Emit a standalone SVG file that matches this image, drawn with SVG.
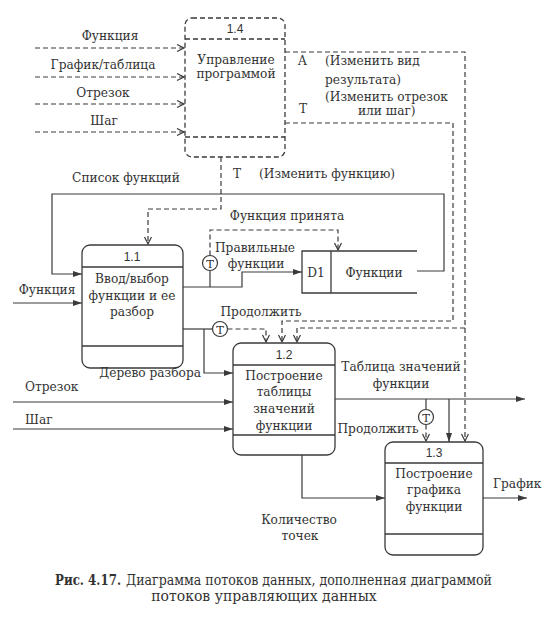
<svg xmlns="http://www.w3.org/2000/svg" width="559" height="620" viewBox="0 0 559 620">
<style>
.ln{stroke:#3a3a3a;stroke-width:1.2;fill:none}
.d{stroke-dasharray:5 3}
.box{stroke:#3a3a3a;stroke-width:1.3;fill:none}
text{font-family:"DejaVu Serif","Liberation Serif",serif;font-size:12.2px;fill:#333}
.num{font-family:"Liberation Sans",Arial,sans-serif;font-size:12px}
.m{text-anchor:middle}
.e{text-anchor:end}
.cap{font-size:14px}
.circ{stroke:#3a3a3a;stroke-width:1.2;fill:#fff}
</style>
<defs>
<marker id="af" markerUnits="userSpaceOnUse" markerWidth="10" markerHeight="8" refX="9" refY="3.5" orient="auto">
<path d="M0,0.5 L9,3.5 L0,6.5 z" fill="#3a3a3a"/>
</marker>
<marker id="ao" markerUnits="userSpaceOnUse" markerWidth="10" markerHeight="10" refX="8" refY="4" orient="auto">
<path d="M1,0.5 L8,4 L1,7.5" fill="none" stroke="#3a3a3a" stroke-width="1.2"/>
</marker>
</defs>
<rect width="559" height="620" fill="#fff"/>

<g id="connectors">
<path class="ln d" d="M35,48 H184" marker-end="url(#ao)"/>
<path class="ln d" d="M35,77 H184" marker-end="url(#ao)"/>
<path class="ln d" d="M35,104 H184" marker-end="url(#ao)"/>
<path class="ln d" d="M35,132 H184" marker-end="url(#ao)"/>
<path class="ln d" d="M285,52 H465 V441" marker-end="url(#ao)"/>
<path class="ln d" d="M465,328 H297 V342" marker-end="url(#ao)"/>
<path class="ln d" d="M285,123 H453 V321 H282 V342" marker-end="url(#ao)"/>
<path class="ln d" d="M221,157 V209 H148 V244" marker-end="url(#ao)"/>
<path class="ln" d="M417,271 H444 V194 H52 V274 H82" marker-end="url(#af)"/>
<path class="ln" d="M13,303 H82" marker-end="url(#af)"/>
<path class="ln" d="M183,287 H242 V272 H302" marker-end="url(#af)"/>
<path class="ln" d="M210,287 V270.5"/>
<path class="ln d" d="M210,255.5 V230 H338 V250" marker-end="url(#ao)"/>
<path class="ln" d="M183,329 H212.5"/>
<path class="ln" d="M204,329 V373 H233" marker-end="url(#af)"/>
<path class="ln d" d="M227.5,329 H266 V342" marker-end="url(#ao)"/>
<path class="ln" d="M13,402 H233" marker-end="url(#af)"/>
<path class="ln" d="M13,429 H233" marker-end="url(#af)"/>
<path class="ln" d="M335,399 H525" marker-end="url(#af)"/>
<path class="ln" d="M426,399 V409.5"/>
<path class="ln d" d="M426,424.5 V441" marker-end="url(#ao)"/>
<path class="ln" d="M449,399 V442" marker-end="url(#af)"/>
<path class="ln" d="M302,455 V498 H385" marker-end="url(#af)"/>
<path class="ln" d="M483,498 H527" marker-end="url(#af)"/>
<circle class="circ" cx="210" cy="263" r="7.5"/>
<text x="210" y="267.5" class="m" style="font-size:11.5px">T</text>
<circle class="circ" cx="220" cy="329" r="7.5"/>
<text x="220" y="333.5" class="m" style="font-size:11.5px">T</text>
<circle class="circ" cx="426" cy="417" r="7.5"/>
<text x="426" y="421.5" class="m" style="font-size:11.5px">T</text>
</g>

<g id="labels">
<text x="110" y="40" class="m">Функция</text>
<text x="103" y="69" class="m">График/таблица</text>
<text x="103" y="97" class="m">Отрезок</text>
<text x="104" y="125" class="m">Шаг</text>
<text x="298" y="65">A</text>
<text x="325" y="65">(Изменить вид</text>
<text x="325" y="84">результата)</text>
<text x="325" y="101">(Изменить отрезок</text>
<text x="358" y="115">или шаг)</text>
<text x="299" y="113">T</text>
<text x="126" y="182" class="m">Список функций</text>
<text x="233" y="178">T</text>
<text x="259" y="178">(Изменить функцию)</text>
<text x="287" y="220" class="m">Функция принята</text>
<text x="255" y="252" class="m">Правильные</text>
<text x="256" y="268" class="m">функции</text>
<text x="47" y="294" class="m">Функция</text>
<text x="261" y="316" class="m">Продолжить</text>
<text x="201" y="377" class="e">Дерево разбора</text>
<text x="25" y="391">Отрезок</text>
<text x="25" y="424">Шаг</text>
<text x="401" y="371" class="m">Таблица значений</text>
<text x="401" y="388" class="m">функции</text>
<text x="378" y="433" class="m">Продолжить</text>
<text x="299" y="524" class="m">Количество</text>
<text x="300" y="540" class="m">точек</text>
<text x="493" y="488">График</text>
</g>

<g id="n14">
<rect class="box d" x="185" y="18" width="100" height="139" rx="7"/>
<path class="box d" d="M185,39 H285 M185,137 H285"/>
<text x="235" y="33" class="num m">1.4</text>
<text x="236" y="64" class="m">Управление</text>
<text x="236" y="78" class="m">программой</text>
</g>

<g id="n11">
<rect class="box" x="82" y="245" width="101" height="123" rx="8"/>
<path class="box" d="M82,267 H183 M82,346 H183"/>
<text x="132" y="261" class="num m">1.1</text>
<text x="132" y="283" class="m">Ввод/выбор</text>
<text x="132" y="300" class="m">функции и ее</text>
<text x="132" y="316" class="m">разбор</text>
</g>

<g id="d1">
<path class="box" d="M417,251 H302 V293 H417 M331,251 V293"/>
<text x="316" y="277" class="m">D1</text>
<text x="374" y="277" class="m">Функции</text>
</g>

<g id="n12">
<rect class="box" x="233" y="343" width="102" height="112" rx="8"/>
<path class="box" d="M233,365 H335 M233,435 H335"/>
<text x="284" y="359" class="num m">1.2</text>
<text x="284" y="380" class="m">Построение</text>
<text x="284" y="396" class="m">таблицы</text>
<text x="284" y="413" class="m">значений</text>
<text x="284" y="430" class="m">функции</text>
</g>

<g id="n13">
<rect class="box" x="385" y="442" width="98" height="113" rx="8"/>
<path class="box" d="M385,463 H483 M385,534 H483"/>
<text x="434" y="457" class="num m">1.3</text>
<text x="434" y="478" class="m">Построение</text>
<text x="434" y="494" class="m">графика</text>
<text x="434" y="511" class="m">функции</text>
</g>

<g id="caption">
<text x="55" y="585" class="cap" font-weight="bold" textLength="66" lengthAdjust="spacingAndGlyphs">Рис. 4.17.</text>
<text x="126" y="585" class="cap" textLength="366" lengthAdjust="spacingAndGlyphs">Диаграмма потоков данных, дополненная диаграммой</text>
<text x="264" y="601" class="cap m">потоков управляющих данных</text>
</g>
</svg>
